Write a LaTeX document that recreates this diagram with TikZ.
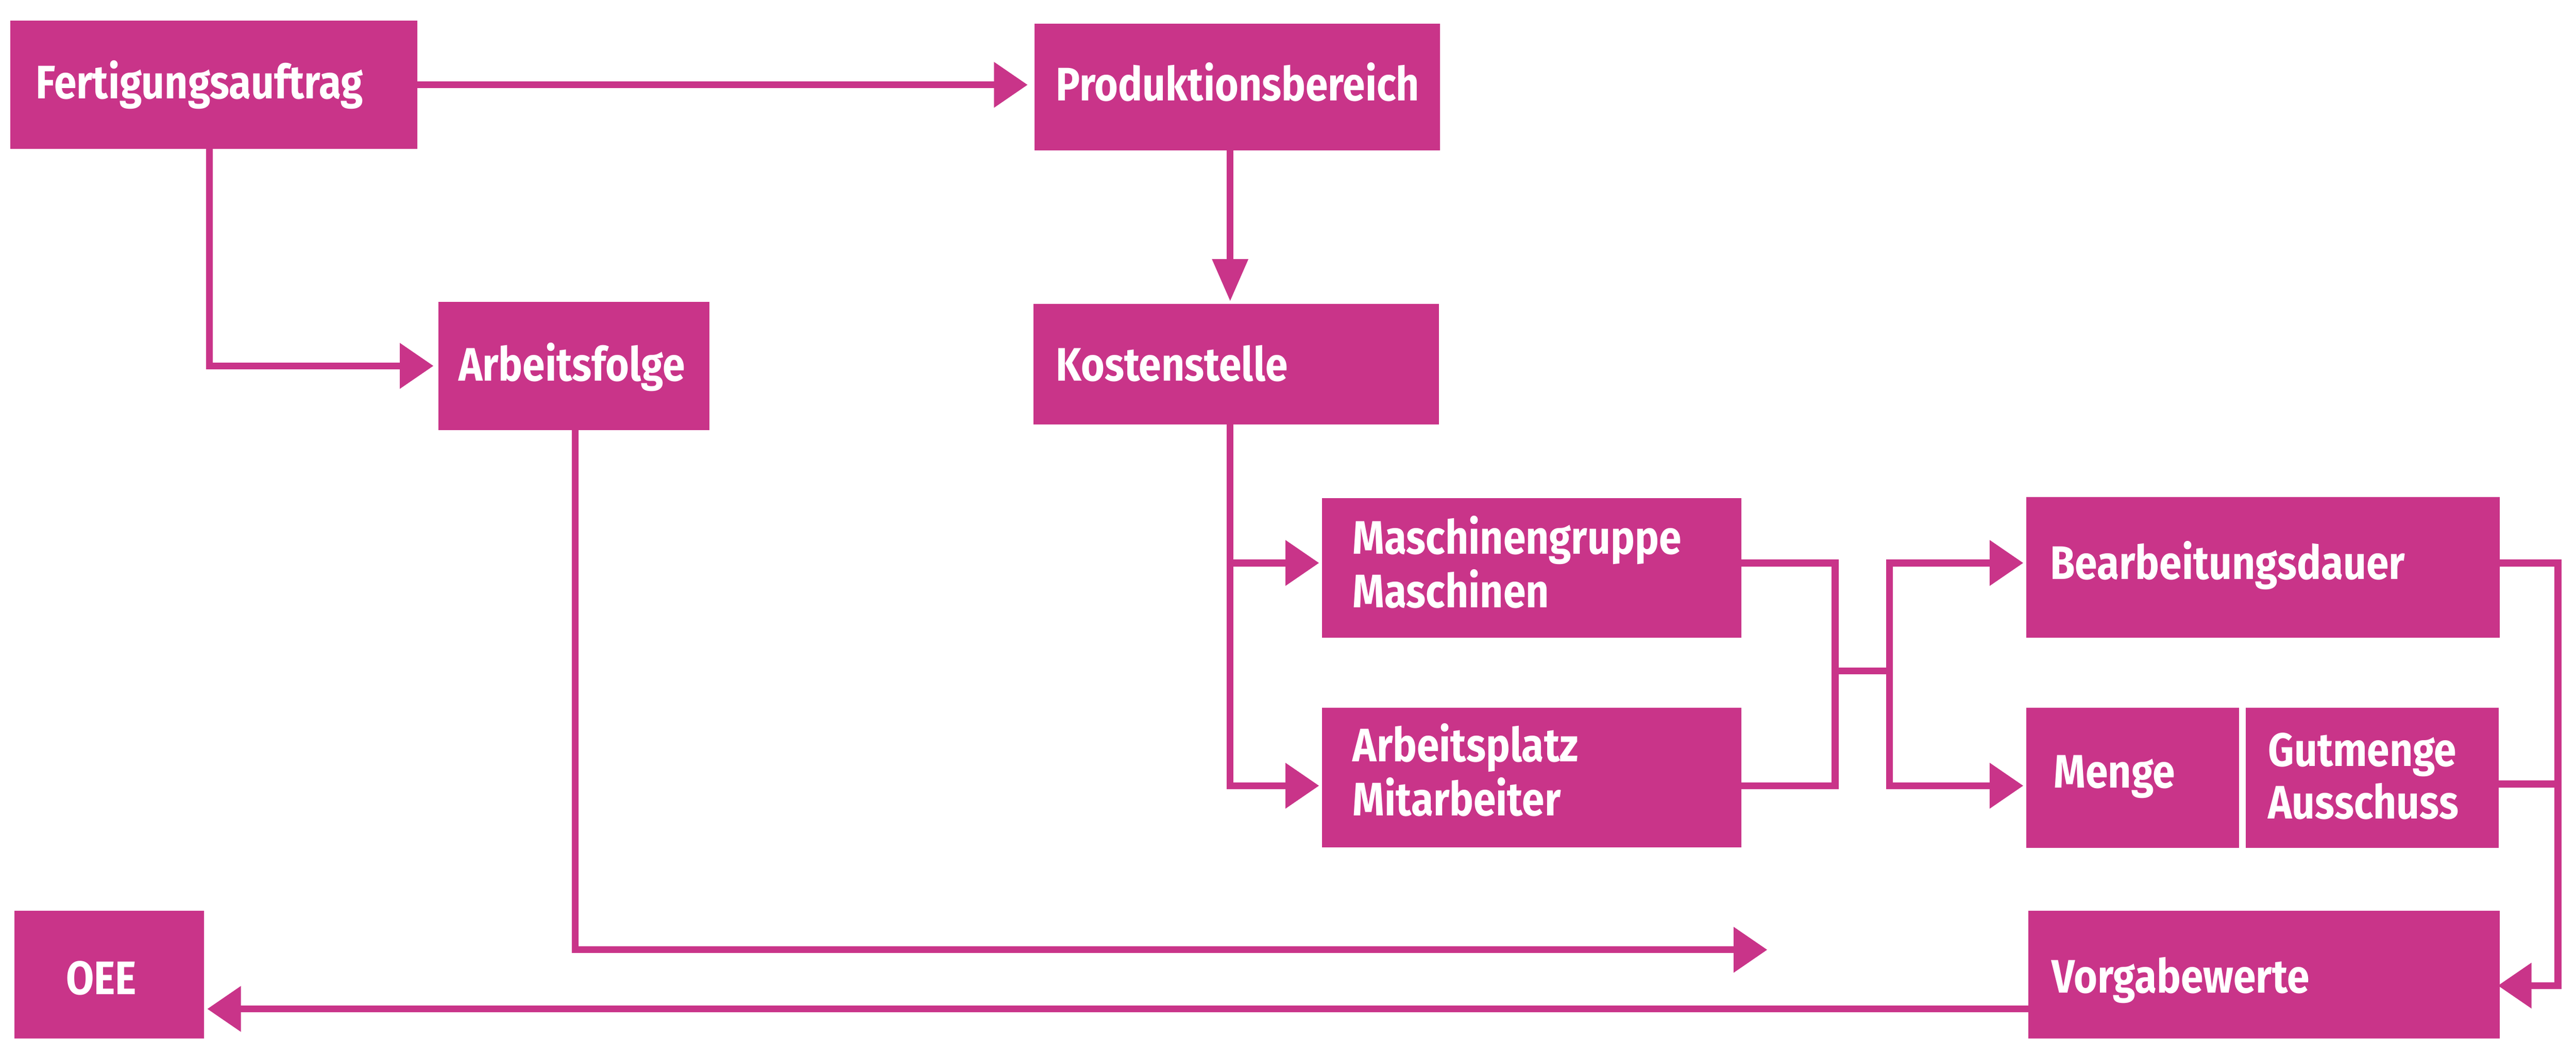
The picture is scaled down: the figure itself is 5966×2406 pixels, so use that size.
\documentclass[tikz,border=0pt]{standalone}
\usepackage{fontspec}
\setmainfont{Fira Sans}[FakeStretch=0.86]
\usetikzlibrary{arrows.meta}
\definecolor{pk}{RGB}{201,52,137}
\begin{document}
\begin{tikzpicture}[x=0.1mm,y=-0.1mm,
  box/.style={fill=pk, draw=none, inner sep=0pt, outer sep=0pt, anchor=north west},
  lbl/.style={text=white, inner sep=0pt, outer sep=0pt, anchor=base west, font=\fontsize{31pt}{34.6pt}\selectfont\bfseries},
  conn/.style={draw=pk, line width=1.6mm, line cap=rect, line join=miter},
  arr/.style={conn, -{Triangle[length=7.8mm,width=10.2mm]}, shorten >=0.8mm},
  varr/.style={conn, -{Triangle[length=9.8mm,width=8mm]}, shorten >=0.6mm}]
\useasboundingbox (0,0) rectangle (5966,2406);
\fill[white] (0,0) rectangle (5966,2406);

% helper coordinates
\coordinate (fx) at (485,0);
\coordinate (kx) at (2849,0);
\coordinate (ax) at (1332,0);
\coordinate (jx1) at (4250,0);
\coordinate (jx2) at (4376,0);
\coordinate (rx) at (5924,0);
\coordinate (r1) at (0,1304);
\coordinate (r2) at (0,1820);
\coordinate (rm) at (0,1554);
\coordinate (rg) at (0,1816);
\coordinate (rv) at (0,2283);
\coordinate (rb) at (0,2337);
\coordinate (afend) at (4093,2200);

% boxes
\node[box, minimum width=94.2mm, minimum height=29.7mm] (FA) at (24,48) {};
\node[box, minimum width=93.9mm, minimum height=29.4mm] (PB) at (2396,55) {};
\node[box, minimum width=62.8mm, minimum height=29.7mm] (AF) at (1015,699) {};
\node[box, minimum width=93.9mm, minimum height=27.9mm] (KS) at (2393,704) {};
\node[box, minimum width=97.1mm, minimum height=32.3mm] (MG) at (3062,1154) {};
\node[box, minimum width=97.1mm, minimum height=32.3mm] (AP) at (3062,1640) {};
\node[box, minimum width=109.6mm, minimum height=32.5mm] (BD) at (4693,1152) {};
\node[box, minimum width=49.2mm, minimum height=32.4mm] (ME) at (4693,1640) {};
\node[box, minimum width=58.6mm, minimum height=32.4mm] (GM) at (5201,1640) {};
\node[box, minimum width=109.2mm, minimum height=29.6mm] (VW) at (4697,2110) {};
\node[box, minimum width=43.8mm, minimum height=29.7mm] (OEE) at (34,2109) {};

% labels
\node[lbl] (tFA) at (83,228) {Fertigungsauftrag};
\node[lbl] (tPB) at (2446,233) {Produktionsbereich};
\node[lbl] (tAF) at (1062,882) {Arbeitsfolge};
\node[lbl] (tKS) at (2446,882) {Kostenstelle};
\node[lbl] (tMG) at (3133,1283) {\begin{tabular}[t]{@{}l@{}}Maschinengruppe\\Maschinen\end{tabular}};
\node[lbl] (tAP) at (3133,1764) {\begin{tabular}[t]{@{}l@{}}Arbeitsplatz\\Mitarbeiter\end{tabular}};
\node[lbl] (tBD) at (4748,1342) {Bearbeitungsdauer};
\node[lbl] (tME) at (4757,1825) {Menge};
\node[lbl] (tGM) at (5253,1775) {\begin{tabular}[t]{@{}l@{}}Gutmenge\\Ausschuss\end{tabular}};
\node[lbl] (tVW) at (4752,2300) {Vorgabewerte};
\node[lbl] (tOEE) at (153,2303) {OEE};

% connectors
\draw[arr, shorten >=1.6mm] (FA.east) -- (FA.east -| PB.west);
\draw[arr, shorten >=1.1mm] (FA.south -| fx) |- (AF.west);
\draw[varr] (PB.south -| kx) -- (KS.north -| kx);
\draw[conn] (KS.south -| kx) -- (kx |- r1);
\draw[arr, shorten >=0.7mm] (KS.south -| kx) |- (AP.west |- r2);
\draw[arr, shorten >=0.7mm] (kx |- r1) -- (MG.west |- r1);
\draw[conn] (MG.east |- r1) -| (jx1 |- r2) -- (AP.east |- r2);
\draw[conn] (jx1 |- rm) -- (jx2 |- rm);
\draw[arr, shorten >=0.7mm] (jx2 |- r2) |- (BD.west |- r1);
\draw[arr, shorten >=0.7mm] (jx2 |- r2) -- (ME.west |- r2);
\draw[arr, shorten >=-0.4mm] (BD.east |- r1) -| (rx |- rv) -- (VW.east |- rv);
\draw[conn] (GM.east |- rg) -- (rx |- rg);
\draw[arr, shorten >=0mm] (AF.south -| ax) |- (afend);
\draw[arr] (VW.west |- rb) -- (OEE.east |- rb);
\end{tikzpicture}
\end{document}
